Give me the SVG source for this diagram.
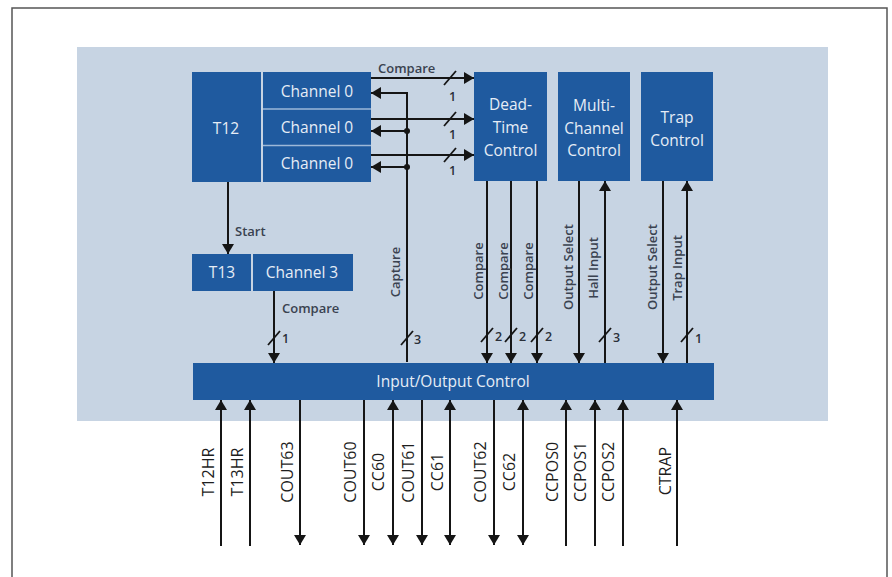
<svg xmlns="http://www.w3.org/2000/svg" width="892" height="577" viewBox="0 0 892 577">
<defs>
<marker id="ah" viewBox="0 0 10 12" refX="10" refY="6" markerWidth="10" markerHeight="12" markerUnits="userSpaceOnUse" orient="auto-start-reverse">
<path d="M0,0 L10,6 L0,12 z" fill="#151515"/>
</marker>
<style>
.box{fill:#1f5a9f;}
.div{stroke:#9db8d8;stroke-width:1.5;}
.bt{font-family:"Open Sans","Liberation Sans",sans-serif;font-size:15.5px;fill:#e6edf6;text-anchor:middle;dominant-baseline:central;}
.ln{stroke:#151515;stroke-width:2;fill:none;}
.ar{marker-end:url(#ah);}
.ab{marker-start:url(#ah);marker-end:url(#ah);}
.sl{stroke:#151515;stroke-width:1.8;}
.lb{font-family:"Open Sans","Liberation Sans",sans-serif;font-size:13px;font-weight:600;fill:#3a4250;dominant-baseline:central;}
.vl{font-family:"Open Sans","Liberation Sans",sans-serif;font-size:13px;font-weight:600;fill:#3a4250;text-anchor:middle;dominant-baseline:central;}
.bl{font-family:"Open Sans","Liberation Sans",sans-serif;font-size:16px;fill:#1e1e1e;text-anchor:middle;dominant-baseline:central;}
.n{font-family:"Open Sans","Liberation Sans",sans-serif;font-size:12.5px;font-weight:600;fill:#2a2f38;dominant-baseline:central;}
</style>
</defs>
<rect x="0" y="0" width="892" height="577" fill="#ffffff"/>
<path d="M12,577 L12,8 L887,8 L887,577" fill="none" stroke="#555" stroke-width="1.5"/>
<rect x="77" y="47" width="751" height="374" fill="#c7d4e3"/>

<g id="t12">
<rect class="box" x="192" y="72" width="69" height="110"/>
<text class="bt" x="226" y="128">T12</text>
</g>
<g id="channels">
<rect class="box" x="263" y="72" width="108" height="110"/>
<line class="div" x1="263" y1="109" x2="371" y2="109"/>
<line class="div" x1="263" y1="145.5" x2="371" y2="145.5"/>
<text class="bt" x="317" y="91">Channel 0</text>
<text class="bt" x="317" y="127">Channel 0</text>
<text class="bt" x="317" y="163">Channel 0</text>
</g>
<g id="deadtime">
<rect class="box" x="474" y="72" width="73" height="109"/>
<text class="bt" x="510.5" y="104">Dead-</text>
<text class="bt" x="510.5" y="127">Time</text>
<text class="bt" x="510.5" y="150">Control</text>
</g>
<g id="multichannel">
<rect class="box" x="558" y="72" width="72" height="109"/>
<text class="bt" x="594" y="105">Multi-</text>
<text class="bt" x="594" y="128">Channel</text>
<text class="bt" x="594" y="150">Control</text>
</g>
<g id="trap">
<rect class="box" x="641" y="72" width="72" height="109"/>
<text class="bt" x="677" y="117">Trap</text>
<text class="bt" x="677" y="140">Control</text>
</g>
<g id="t13">
<rect class="box" x="192" y="254" width="59" height="37"/>
<text class="bt" x="222" y="272">T13</text>
</g>
<g id="channel3">
<rect class="box" x="253" y="254" width="100" height="37"/>
<text class="bt" x="302" y="272">Channel 3</text>
</g>
<g id="io">
<rect class="box" x="193" y="363" width="521" height="37"/>
<text class="bt" x="453" y="381">Input/Output Control</text>
</g>

<g id="connectors">
<line class="ln ar" x1="371" y1="78" x2="474" y2="78"/>
<line class="ln ar" x1="371" y1="119" x2="474" y2="119"/>
<line class="ln ar" x1="371" y1="155" x2="474" y2="155"/>
<line class="sl" x1="444" y1="85" x2="456" y2="71"/>
<line class="sl" x1="444" y1="126" x2="456" y2="112"/>
<line class="sl" x1="444" y1="162" x2="456" y2="148"/>
<text class="n" x="449" y="96">1</text>
<text class="n" x="449" y="134">1</text>
<text class="n" x="449" y="170">1</text>
<text class="lb" x="378" y="68">Compare</text>
<path class="ln ar" d="M407,362 L407,93 L371,93"/>
<line class="ln ar" x1="407" y1="131" x2="371" y2="131"/>
<line class="ln ar" x1="407" y1="167" x2="371" y2="167"/>
<circle cx="407" cy="131" r="3" fill="#151515"/>
<circle cx="407" cy="167" r="3" fill="#151515"/>
<line class="sl" x1="401" y1="345" x2="413" y2="331"/>
<text class="n" x="414" y="339">3</text>
<text class="vl" transform="rotate(-90 395 272)" x="395" y="272">Capture</text>
<line class="ln ar" x1="228" y1="182" x2="228" y2="254"/>
<text class="lb" x="235" y="231">Start</text>
<line class="ln ar" x1="274" y1="291" x2="274" y2="363"/>
<text class="lb" x="282" y="308">Compare</text>
<line class="sl" x1="268" y1="345" x2="280" y2="331"/>
<text class="n" x="282" y="338">1</text>
<line class="ln ar" x1="487" y1="181" x2="487" y2="363"/>
<line class="ln ar" x1="511" y1="181" x2="511" y2="363"/>
<line class="ln ar" x1="537" y1="181" x2="537" y2="363"/>
<line class="sl" x1="481" y1="342" x2="493" y2="328"/>
<line class="sl" x1="505" y1="342" x2="517" y2="328"/>
<line class="sl" x1="531" y1="342" x2="543" y2="328"/>
<text class="n" x="495" y="336">2</text>
<text class="n" x="519" y="336">2</text>
<text class="n" x="545" y="336">2</text>
<text class="vl" transform="rotate(-90 478 271)" x="478" y="271">Compare</text>
<text class="vl" transform="rotate(-90 503 271)" x="503" y="271">Compare</text>
<text class="vl" transform="rotate(-90 528 271)" x="528" y="271">Compare</text>
<line class="ln ar" x1="579" y1="181" x2="579" y2="363"/>
<line class="ln ar" x1="605" y1="363" x2="605" y2="181"/>
<line class="sl" x1="599" y1="342" x2="611" y2="328"/>
<text class="n" x="613" y="337">3</text>
<text class="vl" transform="rotate(-90 568 267)" x="568" y="267">Output Select</text>
<text class="vl" transform="rotate(-90 593 268)" x="593" y="268">Hall Input</text>
<line class="ln ar" x1="663" y1="181" x2="663" y2="363"/>
<line class="ln ar" x1="687" y1="363" x2="687" y2="181"/>
<line class="sl" x1="681" y1="342" x2="693" y2="328"/>
<text class="n" x="695" y="338">1</text>
<text class="vl" transform="rotate(-90 652 267)" x="652" y="267">Output Select</text>
<text class="vl" transform="rotate(-90 677 268)" x="677" y="268">Trap Input</text>
<line class="ln ar" x1="221" y1="546" x2="221" y2="400"/>
<line class="ln ar" x1="250" y1="546" x2="250" y2="400"/>
<line class="ln ar" x1="300" y1="400" x2="300" y2="545"/>
<line class="ln ar" x1="364" y1="400" x2="364" y2="545"/>
<line class="ln ab" x1="393" y1="400" x2="393" y2="545"/>
<line class="ln ar" x1="422" y1="400" x2="422" y2="545"/>
<line class="ln ab" x1="450" y1="400" x2="450" y2="545"/>
<line class="ln ar" x1="494" y1="400" x2="494" y2="545"/>
<line class="ln ab" x1="523" y1="400" x2="523" y2="545"/>
<line class="ln ar" x1="566" y1="546" x2="566" y2="400"/>
<line class="ln ar" x1="595" y1="546" x2="595" y2="400"/>
<line class="ln ar" x1="623" y1="546" x2="623" y2="400"/>
<line class="ln ar" x1="677" y1="546" x2="677" y2="400"/>
</g>
<g id="pin-labels">
<text class="bl" transform="rotate(-90 208 472)" x="208" y="472">T12HR</text>
<text class="bl" transform="rotate(-90 237 472)" x="237" y="472">T13HR</text>
<text class="bl" transform="rotate(-90 287 472)" x="287" y="472">COUT63</text>
<text class="bl" transform="rotate(-90 350 472)" x="350" y="472">COUT60</text>
<text class="bl" transform="rotate(-90 378 472)" x="378" y="472">CC60</text>
<text class="bl" transform="rotate(-90 408 472)" x="408" y="472">COUT61</text>
<text class="bl" transform="rotate(-90 437 472)" x="437" y="472">CC61</text>
<text class="bl" transform="rotate(-90 480 472)" x="480" y="472">COUT62</text>
<text class="bl" transform="rotate(-90 509 472)" x="509" y="472">CC62</text>
<text class="bl" transform="rotate(-90 552 472)" x="552" y="472">CCPOS0</text>
<text class="bl" transform="rotate(-90 580 472)" x="580" y="472">CCPOS1</text>
<text class="bl" transform="rotate(-90 608 472)" x="608" y="472">CCPOS2</text>
<text class="bl" transform="rotate(-90 665 471)" x="665" y="471">CTRAP</text>
</g>
</svg>
